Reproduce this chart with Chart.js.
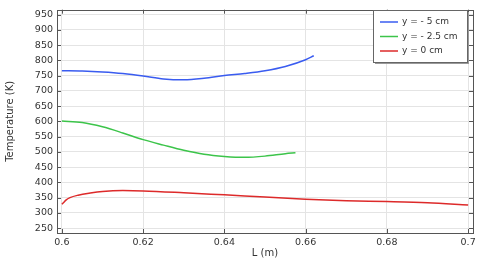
<!DOCTYPE html>
<html>
<head>
<meta charset="utf-8">
<script src="https://cdn.jsdelivr.net/npm/chart.js@4/dist/chart.umd.min.js"></script>
<style>
  html, body { margin: 0; padding: 0; background: #fff; }
  #wrap { width: 480px; height: 261px; }
</style>
</head>
<body>
<div id="wrap"><canvas id="c" width="480" height="261"></canvas></div>
<script>
// data
const xTicks = [0.6, 0.62, 0.64, 0.66, 0.68, 0.7];
const yTicks = [250, 300, 350, 400, 450, 500, 550, 600, 650, 700, 750, 800, 850, 900, 950];

const seriesLabels = ['y = - 5 cm', 'y = - 2.5 cm', 'y = 0 cm'];
const seriesColors = ['#3a5cf0', '#3cc44a', '#dd2a2a'];

const blueL = [0.6, 0.605, 0.61, 0.615, 0.62, 0.625, 0.63, 0.635, 0.64, 0.645, 0.65, 0.655, 0.66, 0.662];
const blueT = [766, 765, 762, 757, 749, 739, 736, 741, 750, 757, 766, 780, 802, 815];

const greenL = [0.6, 0.605, 0.61, 0.615, 0.62, 0.625, 0.63, 0.635, 0.64, 0.645, 0.65, 0.655, 0.6575];
const greenT = [601, 596, 582, 562, 540, 522, 505, 492, 485, 482, 486, 494, 497];

const redL = [0.6, 0.6005, 0.601, 0.602, 0.604, 0.607, 0.61, 0.615, 0.62, 0.63, 0.64, 0.65, 0.66, 0.67, 0.68, 0.69, 0.7];
const redT = [328, 335, 342, 350, 358, 365, 370, 373, 372, 366, 359, 352, 345, 340, 337, 333, 326];

function pts(xs, ys) {
  return xs.map((x, i) => ({ x: x, y: ys[i] }));
}

const FONT = 'DejaVu Sans';

// inward tick marks, frame and legend box
const frame = {
  id: 'frame',
  afterDraw(chart) {
    const c = chart.ctx;
    const a = chart.chartArea;
    const xs = chart.scales.x, ys = chart.scales.y;
    c.save();
    c.strokeStyle = '#555';
    c.lineWidth = 1;
    c.beginPath();
    xTicks.forEach(v => {
      const px = Math.round(xs.getPixelForValue(v)) + 0.5;
      c.moveTo(px, a.bottom); c.lineTo(px, a.bottom - 4);
      c.moveTo(px, a.top); c.lineTo(px, a.top + 4);
    });
    yTicks.forEach(v => {
      const py = Math.round(ys.getPixelForValue(v)) + 0.5;
      c.moveTo(a.left, py); c.lineTo(a.left + 4, py);
      c.moveTo(a.right, py); c.lineTo(a.right - 4, py);
    });
    c.stroke();
    c.strokeRect(Math.round(a.left) + 0.5, Math.round(a.top) + 0.5,
      Math.round(a.right - a.left), Math.round(a.bottom - a.top));

    // legend
    const bx = 373, by = 10, bw = 94, bh = 52;
    c.fillStyle = '#999';
    c.fillRect(bx + 2, by + 2, bw, bh);
    c.fillStyle = '#fff';
    c.fillRect(bx, by, bw, bh);
    c.strokeStyle = '#666';
    c.strokeRect(bx + 0.5, by + 0.5, bw, bh);
    c.font = '9px "' + FONT + '"';
    c.textBaseline = 'middle';
    chart.data.datasets.forEach((d, i) => {
      const yy = by + 12 + i * 14.5;
      c.strokeStyle = d.borderColor;
      c.lineWidth = 1.5;
      c.beginPath();
      c.moveTo(bx + 7, yy); c.lineTo(bx + 25, yy);
      c.stroke();
      c.fillStyle = '#333';
      c.fillText(d.label, bx + 29, yy);
    });
    c.restore();
  }
};

new Chart(document.getElementById('c'), {
  type: 'scatter',
  data: {
    datasets: [
      { label: seriesLabels[0], data: pts(blueL, blueT), borderColor: seriesColors[0] },
      { label: seriesLabels[1], data: pts(greenL, greenT), borderColor: seriesColors[1] },
      { label: seriesLabels[2], data: pts(redL, redT), borderColor: seriesColors[2] }
    ].map(d => Object.assign(d, {
      showLine: true, pointRadius: 0, borderWidth: 1.5,
      cubicInterpolationMode: 'monotone', backgroundColor: d.borderColor
    }))
  },
  options: {
    responsive: false,
    animation: false,
    layout: { padding: { top: 4, right: 7, left: 0, bottom: 0 } },
    plugins: { legend: { display: false }, tooltip: { enabled: false } },
    scales: {
      x: {
        type: 'linear',
        min: 0.5988, max: 0.7012,
        afterBuildTicks: s => { s.ticks = xTicks.map(v => ({ value: v })); },
        afterFit: s => { s.height = 28; },
        ticks: { callback: v => String(v), color: '#333', font: { family: FONT, size: 9.5 }, padding: 4, maxRotation: 0, autoSkip: false },
        grid: { color: '#e4e4e4', drawTicks: false },
        border: { display: false },
        title: { display: true, text: 'L (m)', color: '#333', font: { family: FONT, size: 10 }, padding: { top: 0, bottom: 2 } }
      },
      y: {
        min: 234, max: 966,
        afterBuildTicks: s => { s.ticks = yTicks.map(v => ({ value: v })); },
        afterFit: s => { s.width = 57; },
        ticks: { color: '#333', font: { family: FONT, size: 9.5 }, padding: 4, autoSkip: false },
        grid: { color: '#e4e4e4', drawTicks: false },
        border: { display: false },
        title: { display: true, text: 'Temperature (K)', color: '#333', font: { family: FONT, size: 10 }, padding: { top: 4, bottom: 0 } }
      }
    }
  },
  plugins: [frame]
});
</script>
</body>
</html>
